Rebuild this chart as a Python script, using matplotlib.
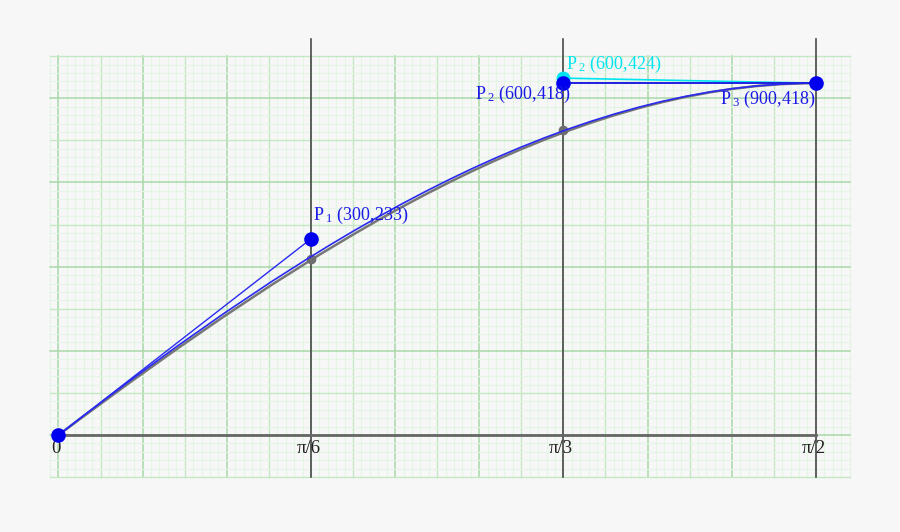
import numpy as np
import matplotlib.pyplot as plt
from matplotlib.path import Path
from matplotlib.patches import PathPatch

plt.rcParams['font.family'] = ['Liberation Serif', 'DejaVu Serif']
plt.rcParams['mathtext.fontset'] = 'custom'
plt.rcParams['mathtext.rm'] = 'Liberation Serif'
plt.rcParams['mathtext.it'] = 'Liberation Serif'

# control points of the bezier (blue)
bez_x = [0, 300, 600, 900]
bez_y = [0, 233, 418, 418]
# alternative P2 (cyan)
alt_p2 = (600, 424)
# reference curve (gray) and its sample points
ref_x = [0, 300, 600, 900]
ref_y = [0, 224, 418, 418]
samp_x = [300, 600]
samp_y = [209, 362]

tick_pos = [0, 300, 600, 900]
tick_lab = ['0', 'π/6', 'π/3', 'π/2']

fig = plt.figure(figsize=(9, 5.32), dpi=100)
fig.patch.set_facecolor('#f7f7f7')
ax = fig.add_axes([0, 0, 1, 1])
ax.set_facecolor('#f7f7f7')
ax.set_xlim(-69.5, 1000)
ax.set_ylim(-115.2, 516.8)
ax.axis('off')

# graph paper grid
for x in range(-10, 941, 10):
    if x % 100 == 0:
        c, lw = '#a9d8a9', 1.1
    elif x % 50 == 0:
        c, lw = '#c4e8c4', 1.0
    else:
        c, lw = '#e3f5e3', 0.8
    ax.plot([x, x], [-50, 450], color=c, lw=lw, zorder=1)
for y in range(-50, 451, 10):
    if y % 100 == 0:
        c, lw = '#a9d8a9', 1.1
    elif y % 50 == 0:
        c, lw = '#c4e8c4', 1.0
    else:
        c, lw = '#e3f5e3', 0.8
    ax.plot([-10, 940], [y, y], color=c, lw=lw, zorder=1)

# axes lines
for x in tick_pos[1:]:
    ax.plot([x, x], [-50, 470], color='#4a4a4a', lw=1.2, zorder=2)
ax.plot([0, 900], [0, 0], color='#666666', lw=2, zorder=2)

for x, lab in zip(tick_pos, tick_lab):
    ax.text(x - 3, -6, lab, ha='center', va='top', fontsize=13.5, color='#222222', zorder=5)

codes = [Path.MOVETO, Path.CURVE4, Path.CURVE4, Path.CURVE4]

# gray reference curve
ref = Path(list(zip(ref_x, ref_y)), codes)
ax.add_patch(PathPatch(ref, fc='none', ec='#777777', lw=1.8, zorder=3,
                       transform=ax.transData))
ax.plot(samp_x, samp_y, 'o', color='#6e6e6e', ms=6, zorder=4)

# blue bezier
blue = '#2a2af2'
bez = Path(list(zip(bez_x, bez_y)), codes)
ax.add_patch(PathPatch(bez, fc='none', ec=blue, lw=1.2, zorder=4,
                       transform=ax.transData))

# control polygon legs
ax.plot(bez_x[:2], bez_y[:2], color=blue, lw=1.0, zorder=4)
ax.plot([alt_p2[0], bez_x[3]], [alt_p2[1], bez_y[3]], color='#00e5f0', lw=1.2, zorder=4)
ax.plot(bez_x[2:], bez_y[2:], color='#2020e0', lw=1.4, zorder=5)

ax.plot(*alt_p2, 'o', color='#00e5f0', ms=9, zorder=5)
ax.plot(bez_x, bez_y, 'o', color='#0000ee', ms=9.5, zorder=6)

txt = '#1a1ae6'
fs = 13
ax.text(bez_x[1] + 2, bez_y[1] + 28, r'P$\,{}_{1}$ (300,233)', color=txt,
        fontsize=fs, ha='left', va='center', zorder=7)
ax.text(bez_x[2] + 8, bez_y[2] - 13, r'P$\,{}_{2}$ (600,418)', color=txt,
        fontsize=fs, ha='right', va='center', zorder=7)
ax.text(alt_p2[0] + 3, alt_p2[1] + 16, r'P$\,{}_{2}$ (600,424)', color='#00e5f0',
        fontsize=fs, ha='left', va='center', zorder=7)
ax.text(bez_x[3] - 1, bez_y[3] - 19, r'P$\,{}_{3}$ (900,418)', color=txt,
        fontsize=fs, ha='right', va='center', zorder=7)

fig.savefig('out.png', dpi=100, facecolor=fig.get_facecolor())
